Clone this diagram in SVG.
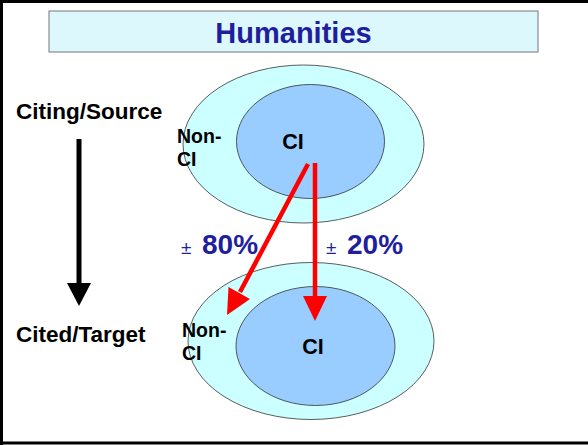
<svg xmlns="http://www.w3.org/2000/svg" width="588" height="445" viewBox="0 0 588 445">
<style>
.lbl{font-family:"Liberation Sans",Arial,sans-serif;font-weight:bold;fill:#000}
.pct{font-family:"Liberation Sans",Arial,sans-serif;font-weight:bold;fill:#1F1F9E;font-size:28px}
.pm{font-family:"Liberation Sans",Arial,sans-serif;fill:#1F1F9E;font-size:19px}
.outer{fill:#CCFFFF;stroke:#333;stroke-width:0.8}
.inner{fill:#99CCFF;stroke:#333;stroke-width:0.8}
.red{stroke:#FF0000;stroke-width:4.5;fill:none}
.redhead{fill:#FF0000}
</style>
<rect x="0" y="0" width="588" height="445" fill="#fff"/>
<path d="M1.5,445 V1.5 H588" fill="none" stroke="#000" stroke-width="3"/>
<line x1="0" y1="443" x2="588" y2="443" stroke="#000" stroke-width="3"/>
<g id="title">
<rect x="49" y="11" width="489" height="41" fill="#DDF8FC" stroke="#777" stroke-width="1"/>
<text x="293.5" y="43" text-anchor="middle" style="font-family:'Liberation Sans',Arial,sans-serif;font-weight:bold;font-size:29px;fill:#1F1F9E">Humanities</text>
</g>
<g id="source-label">
<text class="lbl" x="16" y="119" font-size="22.5">Citing/Source</text>
</g>
<g id="target-label">
<text class="lbl" x="16" y="342" font-size="22.5">Cited/Target</text>
</g>
<g id="source-set">
<ellipse class="outer" cx="303.5" cy="144" rx="120.5" ry="79"/>
<ellipse class="inner" cx="310.5" cy="141.5" rx="74" ry="57"/>
<text class="lbl" x="177" y="143" font-size="19.5">Non-</text>
<text class="lbl" x="177" y="166" font-size="19.5">CI</text>
<text class="lbl" x="293" y="148.5" font-size="21.5" text-anchor="middle">CI</text>
</g>
<g id="target-set">
<ellipse class="outer" cx="311" cy="341" rx="123" ry="78.5"/>
<ellipse class="inner" cx="315.5" cy="346" rx="79.5" ry="59.5"/>
<text class="lbl" x="182" y="337" font-size="19.5">Non-</text>
<text class="lbl" x="182" y="360" font-size="19.5">CI</text>
<text class="lbl" x="313" y="354" font-size="21.5" text-anchor="middle">CI</text>
</g>
<g id="connectors">
<line x1="79" y1="139" x2="79" y2="284" stroke="#000" stroke-width="5"/>
<path d="M67,283 L91,283 L79,306 Z" fill="#000"/>
<line class="red" x1="308" y1="164" x2="240" y2="292"/>
<path class="redhead" d="M227,315 L228.5,287 L250,299 Z"/>
<line class="red" x1="315" y1="163" x2="315" y2="297"/>
<path class="redhead" d="M303,296 L327,296 L315,321 Z"/>
</g>
<g id="pct-labels">
<text x="181" y="254"><tspan class="pm">±</tspan><tspan class="pct" x="202">80%</tspan></text>
<text x="326" y="254"><tspan class="pm">±</tspan><tspan class="pct" x="347">20%</tspan></text>
</g>
</svg>
